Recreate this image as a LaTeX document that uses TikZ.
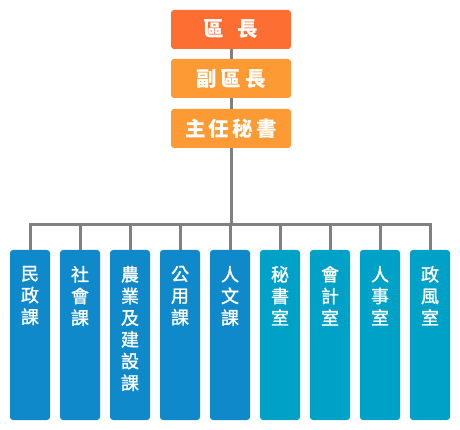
\documentclass[tikz,border=0pt]{standalone}
\usepackage{fontspec}
\setmainfont{Noto Sans CJK TC}
\newfontfamily\medfont[FakeBold=1.3]{Noto Sans CJK TC}
\definecolor{headc}{RGB}{253,110,50}
\definecolor{subc}{RGB}{254,154,52}
\definecolor{bluec}{RGB}{16,137,203}
\definecolor{tealc}{RGB}{0,161,199}
\definecolor{linec}{RGB}{128,128,128}
\begin{document}
\begin{tikzpicture}[x=1pt,y=-1pt,
  topbox/.style={rounded corners=3pt, minimum width=120pt, minimum height=39pt, inner sep=0pt, text=white, font=\fontsize{20.5}{24}\selectfont\bfseries},
  colbox/.style={rounded corners=3pt, minimum width=40pt, minimum height=170pt, inner sep=0pt},
  coltext/.style={anchor=north, inner sep=0pt, align=center, text=white, font=\medfont\fontsize{18}{21.7}\selectfont},
  conn/.style={draw=linec, line width=3pt}]
\useasboundingbox (0,0) rectangle (460,430);
\coordinate (h) at (231,225);
\node[topbox, fill=headc] (a) at (231,29.5) {區\hspace{14pt}長};
\node[topbox, fill=subc] (b) at (231,78.5) {副\hspace{4pt}區\hspace{4pt}長};
\node[topbox, fill=subc] (c) at (231,128.5) {主\hspace{3pt}任\hspace{3pt}秘\hspace{3pt}書};
\foreach \i/\x/\col in {1/30/bluec,2/80/bluec,3/130/bluec,4/180/bluec,5/230/bluec,6/280/tealc,7/330/tealc,8/380/tealc,9/430/tealc}{
  \node[colbox, fill=\col] (d\i) at (\x,335) {};
}
\draw[conn] (a.south) -- (b.north);
\draw[conn] (b.south) -- (c.north);
\draw[conn] (c.south) -- (h);
\draw[conn] (d1.north) -- (d1.north |- h) -- (d9.north |- h) -- (d9.north);
\foreach \i in {2,...,8}{
  \draw[conn] (d\i.north) -- (d\i.north |- h);
}
\node[coltext] (t1) at ([yshift=-16pt]d1.north) {民\\政\\課};
\node[coltext] (t2) at ([yshift=-16pt]d2.north) {社\\會\\課};
\node[coltext] (t3) at ([yshift=-16pt]d3.north) {農\\業\\及\\建\\設\\課};
\node[coltext] (t4) at ([yshift=-16pt]d4.north) {公\\用\\課};
\node[coltext] (t5) at ([yshift=-16pt]d5.north) {人\\文\\課};
\node[coltext] (t6) at ([yshift=-16pt]d6.north) {秘\\書\\室};
\node[coltext] (t7) at ([yshift=-16pt]d7.north) {會\\計\\室};
\node[coltext] (t8) at ([yshift=-16pt]d8.north) {人\\事\\室};
\node[coltext] (t9) at ([yshift=-16pt]d9.north) {政\\風\\室};
\end{tikzpicture}
\end{document}
